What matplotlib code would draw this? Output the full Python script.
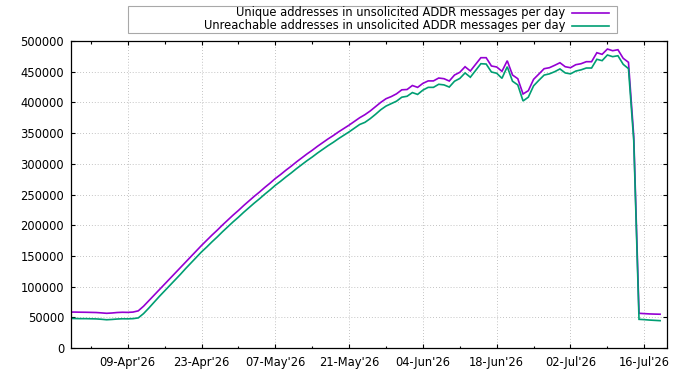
#!/usr/bin/env python3
"""
Unique / unreachable addresses seen in unsolicited ADDR messages, per day.

Output:
  out.png
"""

import matplotlib
matplotlib.use("Agg")
import matplotlib.pyplot as plt
import matplotlib.dates as mdates
from matplotlib.lines import Line2D
from matplotlib.patches import Rectangle
import pandas as pd


# ---------------------------------------------------------------------------
# Data
# ---------------------------------------------------------------------------

dates = pd.date_range("2026-03-29", "2026-07-19", freq="D")

unique_addrs = [
    58500, 58500, 58300, 58200, 58000, 57800,
    57200, 56500, 57000, 57800, 58200, 58000, 58500,
    60500,
    68000, 77000, 86000, 95000, 104000, 113000, 122000, 131000,
    140000, 149000, 158000, 167000,
    175500, 184000, 192000, 200500, 208500, 216500, 224000, 232000,
    239500, 247000, 254000, 261500, 268500, 276000, 282500, 289500,
    296000, 303000, 309500, 316000, 322000, 328500, 334500, 340500,
    346000, 352000, 357500, 363000, 369000, 375000, 380000, 386000,
    393000,
    400000, 406000, 409500, 414000, 420500, 421000, 427500, 424500,
    431000, 435000, 435000,
    439700, 438600, 434800, 444600, 449000, 458100, 451100, 462000,
    472800, 472800, 459300, 457700, 450600, 467900, 444600, 438600,
    413700, 419100, 437600, 446200, 454900, 456500, 460400, 464600,
    458100, 456500, 461400, 463000, 466300, 466300, 480900, 478300,
    486900, 484200, 485800, 471800, 465300,
    345000,
    56500, 56000, 55500, 55200, 55000,
]

unreachable_addrs = [
    48200, 48000, 47800, 47800, 47600, 47400,
    46800, 46000, 46500, 47200, 47600, 47500, 47800,
    49000,
    56000, 65000, 74500, 84000, 93000, 102000, 111000, 120000,
    129500, 138500, 147500, 156500,
    164500, 173000, 181000, 189500, 197500, 205500, 213000, 221000,
    228500, 236000, 243000, 250500, 257500, 265000, 271500, 278500,
    285000, 292000, 298500, 305000, 311000, 317500, 323500, 329500,
    335000, 341000, 346500, 352000, 358000, 364000, 367500, 373500,
    380500,
    388000, 394000, 398000, 402000, 408500, 410000, 416000, 413000,
    420000, 424500, 424500,
    429500, 428500, 425000, 434500, 439000, 448000, 441000, 452000,
    463000, 462500, 449500, 447500, 439200, 458100, 434500, 428500,
    402300, 408500, 427000, 436000, 444500, 446500, 450000, 454500,
    448000, 446500, 451000, 453000, 456000, 456000, 470200, 468000,
    477200, 474500, 476000, 462000, 455000,
    338000,
    46700, 46200, 45500, 45000, 44500,
]

labels = [
    "Unique addresses in unsolicited ADDR messages per day",
    "Unreachable addresses in unsolicited ADDR messages per day",
]
colors = ["#9400d3", "#009e73"]


# ---------------------------------------------------------------------------
# Figure
# ---------------------------------------------------------------------------

W, H = 690, 376
plt.rcParams["font.family"] = ["DejaVu Sans"]
plt.rcParams["font.size"] = 8.3

fig = plt.figure(figsize=(W / 100, H / 100), dpi=100)
ax = fig.add_axes([71 / W, (H - 348) / H, (667 - 71) / W, (348 - 41) / H])

for vals, col in zip([unique_addrs, unreachable_addrs], colors):
    ax.plot(dates, vals, color=col, lw=1.2, solid_joinstyle="miter")

ax.set_xlim(pd.Timestamp("2026-03-29 05:45"), pd.Timestamp("2026-07-20 07:25"))
ax.set_ylim(0, 500000)
ax.set_yticks(range(0, 500001, 50000))
ax.yaxis.set_major_formatter(matplotlib.ticker.FuncFormatter(lambda v, p: f"{int(v)}"))

major = pd.date_range("2026-04-09", periods=8, freq="14D")
minor = pd.date_range("2026-04-02", periods=8, freq="14D")
ax.xaxis.set_major_locator(matplotlib.ticker.FixedLocator(mdates.date2num(major)))
ax.xaxis.set_minor_locator(matplotlib.ticker.FixedLocator(mdates.date2num(minor)))
ax.xaxis.set_major_formatter(mdates.DateFormatter("%d-%b'%y"))

ax.tick_params(which="both", direction="in", top=True, right=True,
               color="black", width=0.8)
ax.tick_params(which="major", length=3.0, pad=6)
ax.tick_params(axis="y", pad=5)
ax.tick_params(which="minor", length=1.8)

ax.grid(True, which="major", color="#b0b0b0", lw=0.6, ls=(0, (1, 2.5)))
ax.set_axisbelow(True)
for s in ax.spines.values():
    s.set_linewidth(0.9)

# gnuplot style key: right aligned text, sample to the right, in a box
fig.add_artist(Rectangle((128 / W, 1 - 33 / H), (617 - 128) / W, (33 - 5.5) / H,
                         transform=fig.transFigure, fill=False,
                         edgecolor="#a8a8a8", lw=0.8))
for i, (lab, col) in enumerate(zip(labels, colors)):
    yy = 1 - (12.5 + 13.5 * i) / H
    fig.text(565 / W, yy, lab, ha="right", va="center")
    fig.add_artist(Line2D([572 / W, 609 / W], [yy, yy], color=col, lw=1.2,
                          transform=fig.transFigure))

fig.savefig("out.png", dpi=100)
